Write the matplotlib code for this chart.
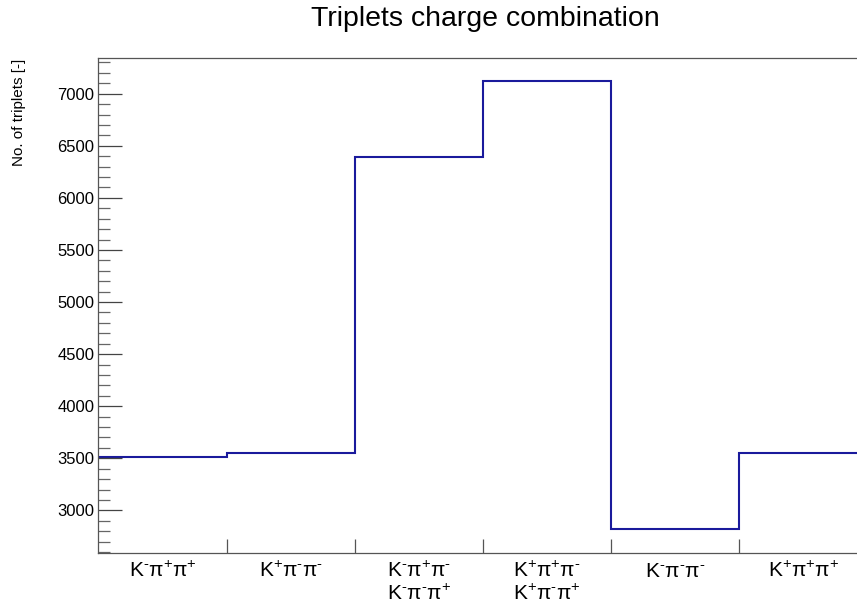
import numpy as np
import matplotlib
matplotlib.use('Agg')
import matplotlib.pyplot as plt
from matplotlib.ticker import MultipleLocator
from matplotlib.transforms import blended_transform_factory

plt.rcParams['font.family'] = ['Liberation Sans', 'DejaVu Sans']
plt.rcParams['mathtext.fontset'] = 'custom'
plt.rcParams['mathtext.rm'] = 'Liberation Sans'
plt.rcParams['mathtext.it'] = 'Liberation Sans'
plt.rcParams['mathtext.default'] = 'regular'

# triplet counts per charge combination
combos = [
    [r'K$^{\text{-}}$π$^{+}$π$^{+}$'],
    [r'K$^{+}$π$^{\text{-}}$π$^{\text{-}}$'],
    [r'K$^{\text{-}}$π$^{+}$π$^{\text{-}}$', r'K$^{\text{-}}$π$^{\text{-}}$π$^{+}$'],
    [r'K$^{+}$π$^{+}$π$^{\text{-}}$', r'K$^{+}$π$^{\text{-}}$π$^{+}$'],
    [r'K$^{\text{-}}$π$^{\text{-}}$π$^{\text{-}}$'],
    [r'K$^{+}$π$^{+}$π$^{+}$'],
]
counts = [3514, 3553, 6392, 7118, 2818, 3553]

edges = np.arange(len(counts) + 1)
centers = edges[:-1] + 0.5

fig = plt.figure(figsize=(8.57, 6.10), dpi=100)
# pad is wider than the saved canvas, right side of the frame falls off
ax = fig.add_axes([98.3/857, 1 - 552.7/610, 769.4/857, 494.4/610])

ax.stairs(counts, edges, baseline=None, color='#1a1a9c', lw=1.5)

ax.set_xlim(0, 6)
ax.set_ylim(2594, 7340)

for s in ['left', 'top', 'bottom', 'right']:
    ax.spines[s].set_color('#555555')
    ax.spines[s].set_linewidth(0.9)

ax.yaxis.set_major_locator(MultipleLocator(500))
ax.yaxis.set_minor_locator(MultipleLocator(100))
ax.tick_params(axis='y', which='major', direction='in', length=17, width=0.9,
               color='#444444', labelsize=12, pad=3)
ax.tick_params(axis='y', which='minor', direction='in', length=8.5, width=0.9,
               color='#666666')
ax.set_yticks(range(3000, 7001, 500))

# bin edges get small ticks, names are written underneath
ax.set_xticks([])
ax.set_xticks(edges[1:-1], minor=True)
ax.tick_params(axis='x', which='minor', direction='in', length=10, width=0.9,
               color='#555555', labelbottom=False)

tr = blended_transform_factory(ax.transData, ax.transAxes)
for xc, lines in zip(centers, combos):
    for i, line in enumerate(lines):
        ax.text(xc, -0.0485 - i * 0.0475, line, transform=tr, ha='center',
                va='baseline', fontsize=15)

fig.text(485/857, 1 - 26/610, 'Triplets charge combination', ha='center',
         va='baseline', fontsize=20.5)
fig.text(19/857, 1 - 59/610, 'No. of triplets [-]', rotation=90, ha='center',
         va='top', fontsize=11)

fig.savefig('out.png', dpi=100)
